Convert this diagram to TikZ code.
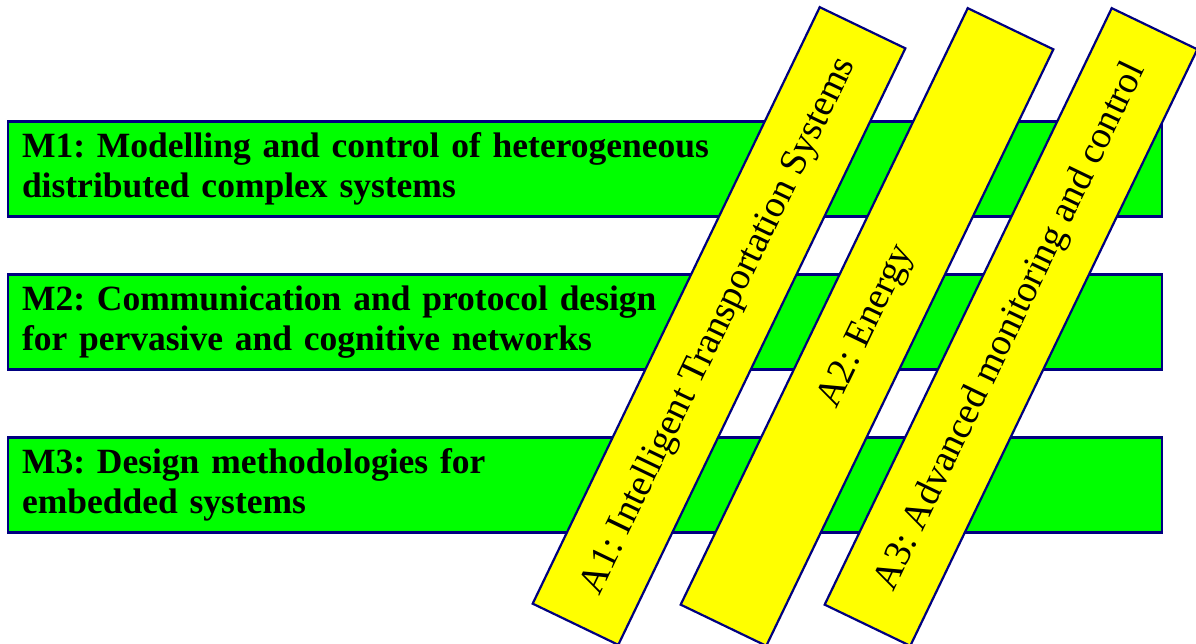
\documentclass[tikz,border=0pt]{standalone}
\usepackage{fontspec}
\setmainfont{Liberation Serif}
\frenchspacing
\definecolor{barblue}{HTML}{000080}
\definecolor{mgreen}{HTML}{00FF00}
\definecolor{ayellow}{HTML}{FFFF00}
\tikzset{
  mbar/.style={draw=barblue, line width=2.2pt, fill=mgreen, rectangle,
    minimum height=95pt, text width=1126pt, inner xsep=14pt, align=left,
    font=\fontsize{35.5}{40}\selectfont\bfseries},
  abar/.style={draw=barblue, line width=2.2pt, fill=ayellow, rectangle,
    minimum width=662pt, minimum height=95pt, rotate=64.3,
    font=\fontsize{38}{40}\selectfont}
}
\begin{document}
\begin{tikzpicture}[x=1pt,y=-1pt]
\useasboundingbox (0,0) rectangle (1196,644);
\begin{scope}
\clip (0,0) rectangle (1196,644);
\node[mbar] (m1) at (585,169) {\frenchspacing M1: Modelling and control of heterogeneous\\distributed complex systems};
\node[mbar] (m2) at (585,322) {\frenchspacing M2: Communication and protocol design\\for pervasive and cognitive networks};
\node[mbar] (m3) at (585,485) {\frenchspacing M3: Design methodologies for\\embedded systems};
\node[abar] (a1) at (719,326) {\frenchspacing A1: Intelligent Transportation Systems};
\node[abar] (a2) at (867,327) {\frenchspacing A2: Energy};
\node[abar] (a3) at (1011,327) {\frenchspacing A3: Advanced monitoring and control};
\end{scope}
\end{tikzpicture}
\end{document}
